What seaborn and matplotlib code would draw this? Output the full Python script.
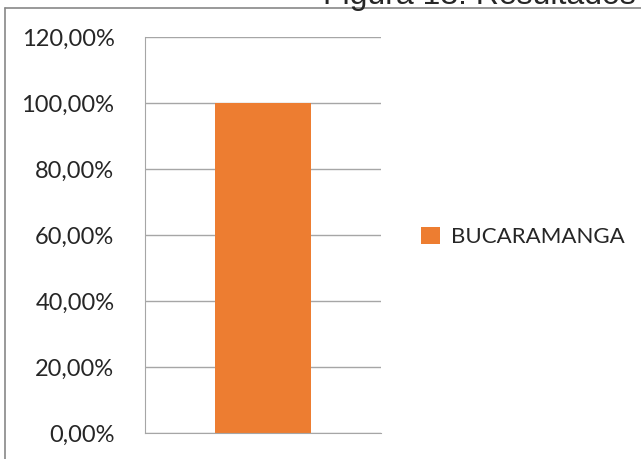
import numpy as np
import pandas as pd
import matplotlib
matplotlib.use("Agg")
import matplotlib.pyplot as plt
from matplotlib.lines import Line2D
from matplotlib.patches import Patch
from matplotlib.ticker import FuncFormatter
import seaborn as sns

# ========== Data ==========
cities = ["BUCARAMANGA"]
values = [1.00]
y_ticks = [0.0, 0.2, 0.4, 0.6, 0.8, 1.0, 1.2]

df = pd.DataFrame({"ciudad": cities, "valor": values})

sns.set_style("white")
plt.rcParams["font.family"] = ["Lato", "DejaVu Sans"]

fig = plt.figure(figsize=(6.41, 4.59), dpi=100)
ax = fig.add_axes([145 / 641, 1 - 433 / 459, (381 - 145) / 641, (433 - 37) / 459])

orange = "#ED7D31"
grid_c = "#A6A6A6"

sns.barplot(data=df, x="ciudad", y="valor", hue="ciudad", palette=[orange],
            width=0.41, ax=ax, legend=False, saturation=1, linewidth=0)

ax.set_ylim(0, 1.2)
ax.set_yticks(y_ticks)
ax.yaxis.set_major_formatter(FuncFormatter(lambda v, p: f"{v * 100:.2f}%".replace(".", ",")))
ax.tick_params(axis="y", length=9, width=1, color=grid_c, labelsize=17, pad=13)
ax.set_xticks([])
ax.set_xlabel("")
ax.set_ylabel("")
ax.grid(axis="y", color=grid_c, lw=1)
ax.set_axisbelow(True)
for s in ["top", "right"]:
    ax.spines[s].set_visible(False)
ax.spines["left"].set_color(grid_c)
ax.spines["bottom"].set_color(grid_c)

# legend
handles = [Patch(facecolor=orange, edgecolor="none", label=c) for c in cities]
fig.legend(handles=handles, loc="center left", bbox_to_anchor=(401 / 641, 1 - 237 / 459),
           frameon=False, fontsize=16, handlelength=0.85, handleheight=0.85, handletextpad=0.5)

# frame lines and cut-off caption
fig.add_artist(Line2D([5 / 641, 5 / 641], [0, 1 - 8 / 459], color="#888888", lw=1.2))
fig.add_artist(Line2D([5 / 641, 1], [1 - 8 / 459, 1 - 8 / 459], color="#888888", lw=1.2))
fig.text(323 / 641, 1 - 4 / 459, "Figura 13. Resultados", fontsize=23,
         family=["Liberation Sans", "DejaVu Sans"], va="baseline", ha="left")

fig.savefig("out.png", dpi=100)
